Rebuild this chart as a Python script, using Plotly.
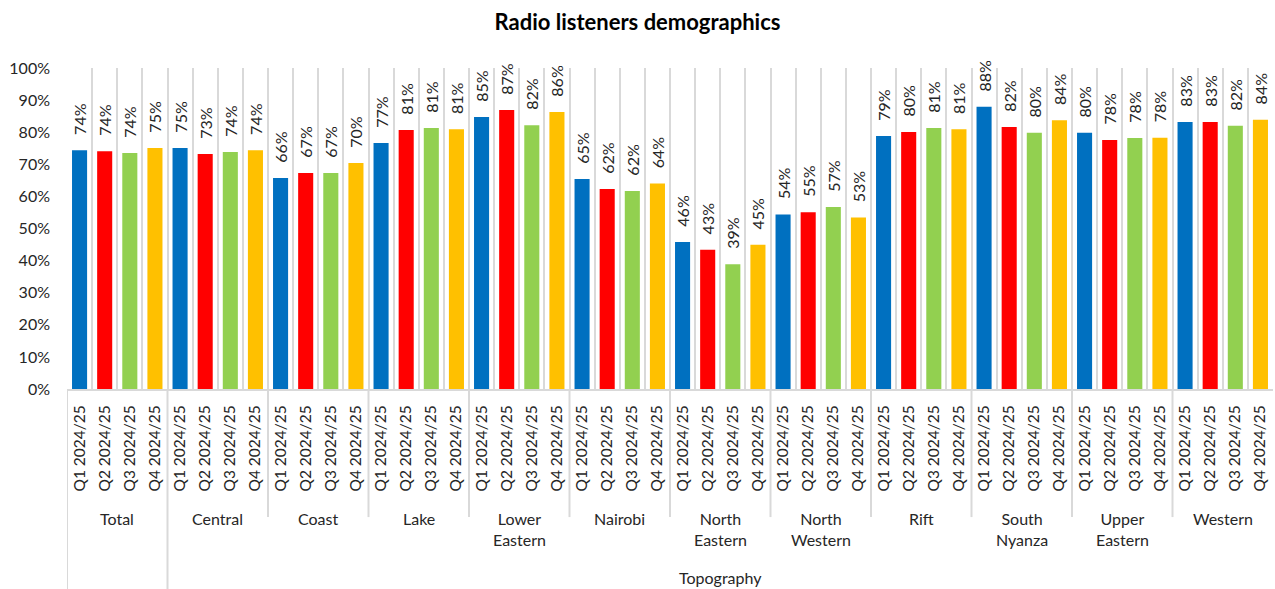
import plotly.graph_objects as go

groups = ["Total", "Central", "Coast", "Lake", "Lower<br>Eastern", "Nairobi",
          "North<br>Eastern", "North<br>Western", "Rift", "South<br>Nyanza",
          "Upper<br>Eastern", "Western"]
quarters = ["Q1 2024/25", "Q2 2024/25", "Q3 2024/25", "Q4 2024/25"]
parent_label = "Topography"
title_text = "Radio listeners demographics"

q1 = [0.744, 0.751, 0.657, 0.766, 0.847, 0.654, 0.458, 0.544, 0.788, 0.879, 0.798, 0.832]
q2 = [0.741, 0.732, 0.673, 0.807, 0.869, 0.623, 0.434, 0.551, 0.801, 0.816, 0.776, 0.832]
q3 = [0.735, 0.738, 0.673, 0.813, 0.822, 0.617, 0.389, 0.567, 0.813, 0.798, 0.782, 0.820]
q4 = [0.751, 0.744, 0.704, 0.809, 0.863, 0.640, 0.449, 0.534, 0.809, 0.837, 0.783, 0.839]
series = [q1, q2, q3, q4]
colors = ["#0070C0", "#FF0000", "#92D050", "#FFC000"]

FONT = "Lato"
GRID = "#d9d9d9"
TXT = "#262626"
nq = len(quarters)
ng = len(groups)

fig = go.Figure()
for qi, vals in enumerate(series):
    xs = [g * nq + qi for g in range(ng)]
    fig.add_trace(go.Bar(
        x=xs, y=vals, name=quarters[qi], width=0.6,
        marker=dict(color=colors[qi], line=dict(width=0)),
        texttemplate="\u00a0\u00a0\u00a0%{y:.0%}", textposition="outside", textangle=-90,
        textfont=dict(family=FONT, size=16, color=TXT),
        cliponaxis=False, constraintext="none", showlegend=False,
    ))

tickvals = list(range(ng * nq))
ticktext = [quarters[i % nq] for i in tickvals]

fig.update_layout(
    width=1275, height=589,
    margin=dict(l=67, r=2, t=68, b=200),
    paper_bgcolor="white", plot_bgcolor="white",
    barmode="overlay",
    title=dict(text="<b>" + title_text + "</b>", x=0.5, xanchor="center",
               y=1 - 22 / 589, yanchor="middle",
               font=dict(family=FONT, size=22, color="black")),
    font=dict(family=FONT, color=TXT),
    xaxis=dict(
        range=[-0.5, ng * nq - 0.5],
        tickmode="array", tickvals=tickvals, ticktext=ticktext,
        tickangle=-90, tickfont=dict(family=FONT, size=15.5, color=TXT),
        showgrid=False, zeroline=False,
        showline=True, linecolor=GRID, linewidth=2,
        ticks="", ticklabelstandoff=8,
        minor=dict(tick0=-0.5, dtick=1, showgrid=True, gridcolor=GRID, gridwidth=2, ticks=""),
    ),
    yaxis=dict(
        range=[0, 1], tickformat=".0%", dtick=0.1,
        showgrid=False, zeroline=False, showline=False,
        tickfont=dict(family=FONT, size=16, color=TXT),
        ticks="", ticklabelstandoff=16,
    ),
)

# separators below the axis between groups
for g in range(ng):
    xb = g * nq - 0.5
    ybot = -0.623 if g in (0, 1) else -0.399
    fig.add_shape(type="line", xref="x", yref="paper", x0=xb, x1=xb, y0=0, y1=ybot,
                  line=dict(color=GRID, width=2))

for g, name in enumerate(groups):
    fig.add_annotation(x=g * nq + (nq - 1) / 2, xref="x", y=-0.368, yref="paper",
                       text=name, showarrow=False, yanchor="top",
                       font=dict(family=FONT, size=16, color=TXT))

fig.add_annotation(x=(nq + ng * nq) / 2 - 0.5, xref="x", y=-0.586, yref="paper",
                   text=parent_label, showarrow=False, yanchor="middle",
                   font=dict(family=FONT, size=16, color=TXT))

fig.write_html("out.html")
